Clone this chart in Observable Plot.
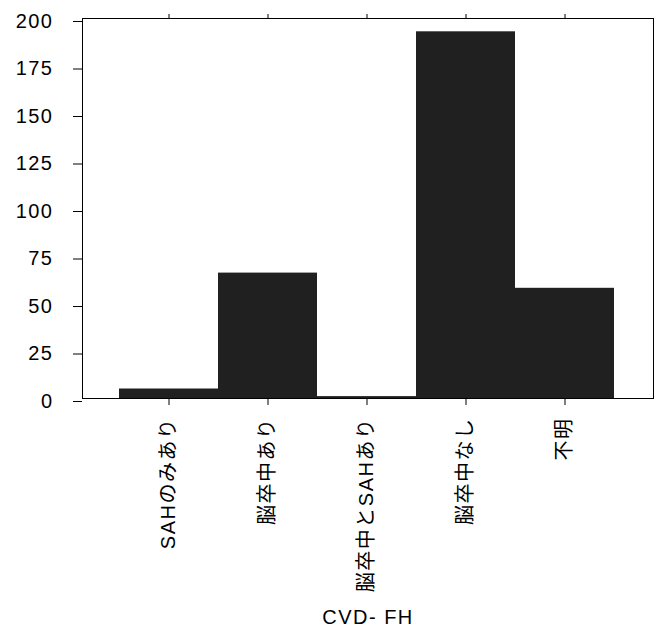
<!DOCTYPE html>
<html><head><meta charset="utf-8">
<script src="https://cdn.jsdelivr.net/npm/d3@7"></script>
<script src="https://cdn.jsdelivr.net/npm/@observablehq/plot@0.6"></script>
<style>body{margin:0;background:#fff} svg text{letter-spacing:1.5px}</style>
</head><body><div id="chart"></div>
<script>
const categories = ["SAHのみあり", "脳卒中あり", "脳卒中とSAHあり", "脳卒中なし", "不明"];
const counts = [5, 66, 1, 193, 58];
const yTicks = [0, 25, 50, 75, 100, 125, 150, 175, 200];
const xLabel = "CVD- FH";
const data = categories.map((c, i) => ({category: c, count: counts[i]}));
const chart = Plot.plot({
  width: 655, height: 630,
  marginLeft: 82, marginRight: 2, marginTop: 18, marginBottom: 232,
  style: {fontFamily: '"Liberation Sans", Arial, "Noto Sans CJK JP", sans-serif', fontSize: "20px", background: "#fff", color: "#000"},
  x: {domain: categories, padding: 0, insetLeft: 35, insetRight: 37, label: null},
  y: {domain: [0, 200], label: null},
  marks: [
    Plot.barY(data, {x: "category", y: "count", fill: "#202020"}),
    Plot.frame({stroke: "#000", strokeWidth: 1}),
    Plot.axisY({ticks: yTicks, tickSize: 9, tickPadding: 20, label: null, dy: 3, fontSize: 20}),
    Plot.axisX({anchor: "bottom", tickSize: 7, tickPadding: 12, tickRotate: -90, fontSize: 20, label: xLabel, labelAnchor: "center", labelOffset: 225, labelArrow: "none"}),
    Plot.axisX({anchor: "top", tickSize: 5, tickFormat: () => "", label: null})
  ]
});
document.getElementById("chart").appendChild(chart);
</script>
</body></html>
